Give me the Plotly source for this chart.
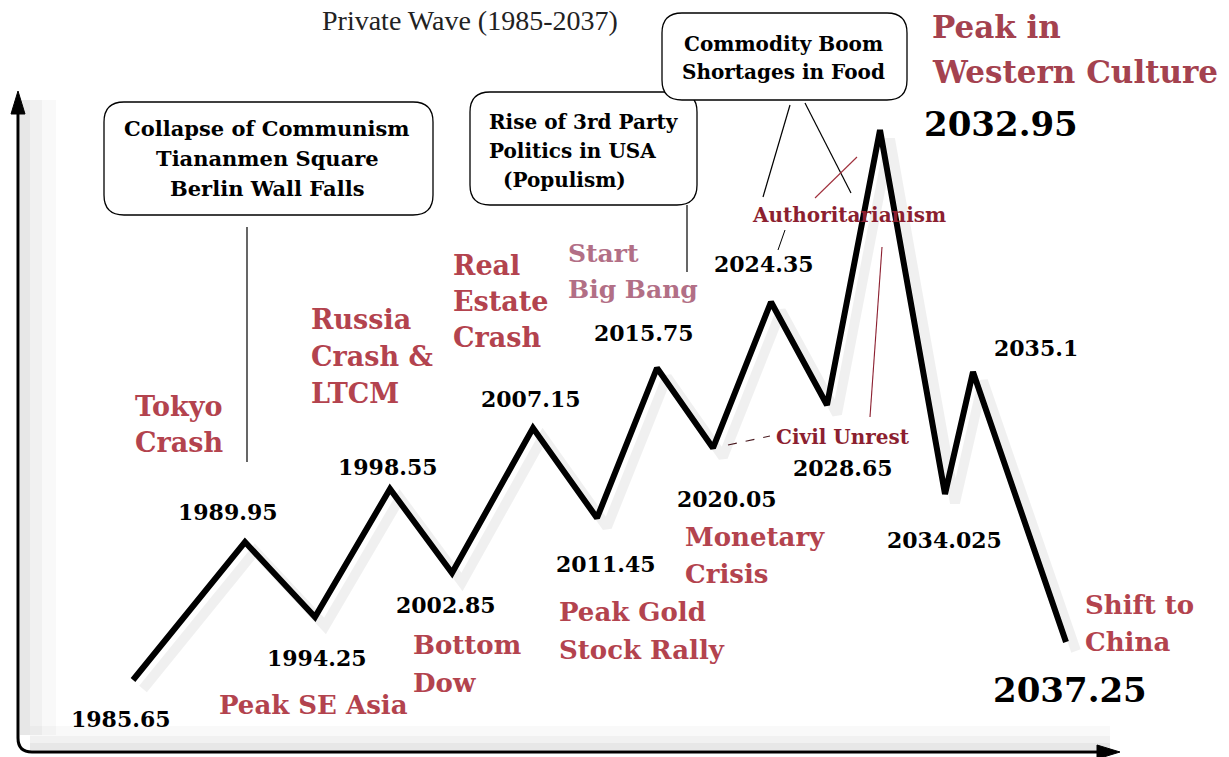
import plotly.graph_objects as go

W, H = 1229, 757
SERIF = "DejaVu Serif"

# ---------------- data ----------------
turning_labels = ["1985.65", "1989.95", "1994.25", "1998.55", "2002.85", "2007.15",
                  "2011.45", "2015.75", "2020.05", "2024.35", "2028.65", "2032.95",
                  "2034.025", "2035.1", "2037.25"]
# horizontal position of each turning point along the schematic time line
wave_pos = [133, 245, 315, 390, 452, 533, 597, 657, 713, 771, 827, 880, 945, 973, 1066]
# wave level (height above the bottom of the picture)
wave_level = [77, 215, 140, 268, 184, 329, 239, 389, 309, 455, 352, 627, 263, 385, 115]

event_labels = ["Tokyo<br>Crash", "Russia<br>Crash &<br>LTCM", "Real<br>Estate<br>Crash",
                "Start<br>Big Bang", "Peak in<br>Western Culture", "Peak SE Asia",
                "Bottom<br>Dow", "Peak Gold<br>Stock Rally", "Monetary<br>Crisis",
                "Shift to<br>China"]
box_texts = ["Collapse of Communism<br>Tiananmen Square<br>Berlin Wall Falls",
             "Rise of 3rd Party<br>Politics in USA<br>  (Populism)",
             "Commodity Boom<br>Shortages in Food"]
theme_labels = ["Authoritarianism", "Civil Unrest"]
title_text = "Private Wave (1985-2037)"

RED = "#b3434e"
MAROON = "#a4424f"
MAUVE = "#b26f86"
DARKRED = "#8c1f30"

fig = go.Figure()


def Y(py):
    return H - py


# ---------------- decorations: shadows ----------------
shapes = []
for x1, op in [(56, 0.025), (42, 0.03), (30, 0.04)]:
    shapes.append(dict(type="rect", x0=20, x1=x1, y0=Y(735), y1=Y(100),
                       fillcolor=f"rgba(0,0,0,{op})", line=dict(width=0), layer="below"))
for y0, op in [(726, 0.025), (736, 0.03), (743, 0.04)]:
    shapes.append(dict(type="rect", x0=30, x1=1110, y0=Y(750), y1=Y(y0),
                       fillcolor=f"rgba(0,0,0,{op})", line=dict(width=0), layer="below"))

# soft shadow of the wave
fig.add_trace(go.Scatter(x=[p + 10 for p in wave_pos], y=[v - 9 for v in wave_level],
                         mode="lines", line=dict(color="rgba(0,0,0,0.06)", width=10),
                         hoverinfo="skip", showlegend=False))
# the wave
fig.add_trace(go.Scatter(x=wave_pos, y=wave_level, mode="lines",
                         line=dict(color="black", width=6),
                         text=turning_labels, hoverinfo="text", showlegend=False))

# ---------------- axes (hand-drawn style with arrows) ----------------
axis_path = f"M 18,{Y(112)} L 18,{Y(738)} Q 18,{Y(752)} 32,{Y(752)} L 1100,{Y(752)}"
shapes.append(dict(type="path", path=axis_path, line=dict(color="black", width=3)))
shapes.append(dict(type="path", path=f"M 18,{Y(91)} L 11,{Y(114)} L 25,{Y(114)} Z",
                   fillcolor="black", line=dict(color="black", width=1)))
shapes.append(dict(type="path", path=f"M 1120,{Y(752)} L 1097,{Y(745)} L 1097,{Y(759)} Z",
                   fillcolor="black", line=dict(color="black", width=1)))


def rrect(x0, y0, x1, y1, r):
    return (f"M {x0 + r},{Y(y0)} L {x1 - r},{Y(y0)} Q {x1},{Y(y0)} {x1},{Y(y0 + r)} "
            f"L {x1},{Y(y1 - r)} Q {x1},{Y(y1)} {x1 - r},{Y(y1)} L {x0 + r},{Y(y1)} "
            f"Q {x0},{Y(y1)} {x0},{Y(y1 - r)} L {x0},{Y(y0 + r)} Q {x0},{Y(y0)} {x0 + r},{Y(y0)} Z")


# boxes (box 3 drawn last so it covers the corner of box 2)
for (x0, y0, x1, y1) in [(104, 102, 433, 215), (470, 92, 697, 205), (662, 13, 907, 100)]:
    shapes.append(dict(type="path", path=rrect(x0, y0, x1, y1, 20),
                       fillcolor="white", line=dict(color="black", width=1.3)))


# connector lines
def seg(x0, y0, x1, y1, color="black", width=1.2, dash="solid"):
    shapes.append(dict(type="line", x0=x0, y0=Y(y0), x1=x1, y1=Y(y1),
                       line=dict(color=color, width=width, dash=dash)))


seg(247, 227, 247, 462)
seg(687, 205, 687, 272)
seg(790, 105, 763, 197)
seg(805, 103, 851, 193)
seg(815, 198, 857, 157, color="#a0303c", width=1.1)
seg(785, 230, 778, 250, width=1.0)
seg(882, 247, 870, 417, color="#8c1f30", width=1.1)
seg(728, 445, 770, 436, color="#4a1a20", width=1.1, dash="dash")

fig.update_layout(shapes=shapes)


# ---------------- text ----------------
def text(x, py, s, size, color="black", anchor="left", family=SERIF, weight="bold"):
    fig.add_annotation(x=x, y=Y(py), text=s, xanchor=anchor, yanchor="middle",
                       showarrow=False,
                       font=dict(family=family, size=size, color=color, weight=weight))


def lines(x, py, s, dy, size, color, anchor="left"):
    for i, ln in enumerate(s.split("<br>")):
        text(x, py + i * dy, ln, size, color, anchor)


# turning point values
num_pos = [(121, 719, 22), (228, 512, 22), (317, 658, 22), (388, 467, 22), (446, 605, 22),
           (531, 399, 22), (606, 564, 22), (644, 333, 22), (727, 499, 22), (764, 264, 22),
           (843, 468, 22), (1001, 124, 34), (944, 540, 22), (1036, 348, 22), (1070, 690, 34)]
for lbl, (x, py, sz) in zip(turning_labels, num_pos):
    text(x, py, lbl, sz, "black", "center")

# event labels
ev_pos = [(133, 406, 36, 27, RED), (309, 319, 37, 27, RED), (451, 265, 36, 27, RED),
          (566, 253, 36, 25, MAUVE), (930, 27, 45, 31, MAROON), (217, 705, 36, 26, RED),
          (411, 645, 38, 26, RED), (557, 612, 38, 26, RED), (683, 537, 37, 26, RED),
          (1083, 605, 37, 26, RED)]
for lbl, (x, py, dy, sz, col) in zip(event_labels, ev_pos):
    lines(x, py, lbl, dy, sz, col)

# boxed texts
lines(267, 128, box_texts[0], 30, 21, "black", "center")
lines(487, 122, box_texts[1], 29, 20, "black", "left")
lines(783, 44, box_texts[2], 28, 20, "black", "center")

# theme labels
text(750, 215, theme_labels[0], 20, DARKRED)
text(774, 437, theme_labels[1], 20, DARKRED)

# title (kept fully visible above the charts' boxes)
text(470, 20, title_text, 28, "#222222", "center", family="Liberation Serif", weight="normal")

fig.update_layout(
    width=W, height=H, margin=dict(l=0, r=0, t=0, b=0),
    paper_bgcolor="white", plot_bgcolor="white",
    xaxis=dict(range=[0, W], visible=False, fixedrange=True),
    yaxis=dict(range=[0, H], visible=False, fixedrange=True),
    showlegend=False,
)

fig.write_html("out.html", config={"displayModeBar": False},
               post_script="document.body.style.margin='0';document.body.style.overflow='hidden';")
